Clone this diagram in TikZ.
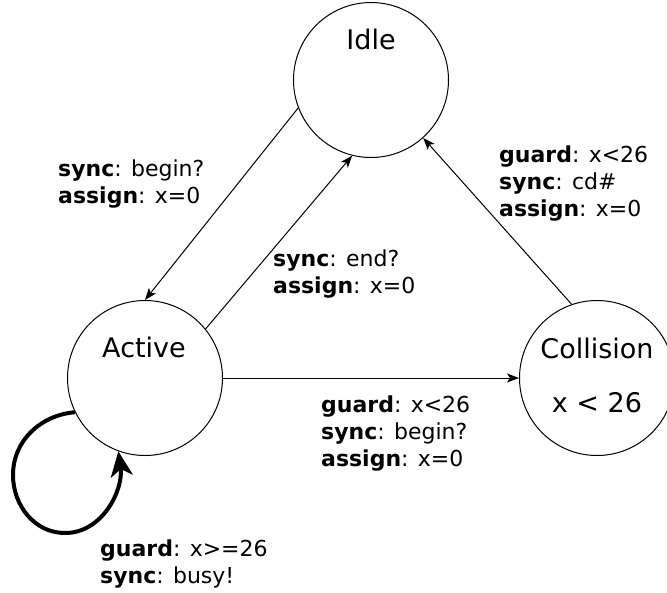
\documentclass[tikz,border=0pt]{standalone}
\usepackage{fontspec}
\setmainfont{DejaVu Sans}
\usetikzlibrary{arrows.meta}
\begin{document}
\begin{tikzpicture}[x=1pt,y=-1pt,
  statecirc/.style={circle,draw,line width=1pt,minimum size=155pt,inner sep=0pt},
  stname/.style={font=\fontsize{27}{31}\selectfont,anchor=base,inner sep=0pt},
  edgelbl/.style={font=\fontsize{22}{26.7}\selectfont,align=left,anchor=north west,inner sep=0pt},
  trans/.style={line width=1pt,-{Stealth[length=12pt,width=9pt,inset=3pt]}},
  selftrans/.style={line width=4pt,-{Stealth[length=25pt,width=22pt,inset=7pt]}}
]
\useasboundingbox (0,0) rectangle (667,592);
\fill[white] (0,0) rectangle (667,592);

\node[statecirc] (I) at (371,80) {};
\node[statecirc] (A) at (145,378) {};
\node[statecirc] (C) at (597,378) {};

\node[stname] (It) at (371,49) {Idle};
\node[stname] (At) at (144,357) {Active};
\node[stname] (Ct) at (597,358) {Collision};
\node[stname] (Ci) at (597,412) {x < 26};

\draw[trans] (I.201) -- (A.90);
\draw[trans] (A.39) -- (I.256);
\draw[trans] (C.109) -- (I.312);
\draw[trans] (A.0) -- (C.180);

\coordinate (loopL) at (13,475);
\coordinate (loopB) at (65,533);
\draw[selftrans] (A.206) to[out=185,in=90] (loopL) to[out=270,in=180] (loopB) to[out=0,in=278] (A.250);

\node[edgelbl] (l1) at (58,160) {\textbf{sync}: begin?\\\textbf{assign}: x=0};
\node[edgelbl] (l2) at (273,250) {\textbf{sync}: end?\\\textbf{assign}: x=0};
\node[edgelbl] (l3) at (499,146) {\textbf{guard}: x<26\\\textbf{sync}: cd\#\\\textbf{assign}: x=0};
\node[edgelbl] (l4) at (321,396) {\textbf{guard}: x<26\\\textbf{sync}: begin?\\\textbf{assign}: x=0};
\node[edgelbl] (l5) at (100,540) {\textbf{guard}: x>=26\\\textbf{sync}: busy!};
\end{tikzpicture}
\end{document}
